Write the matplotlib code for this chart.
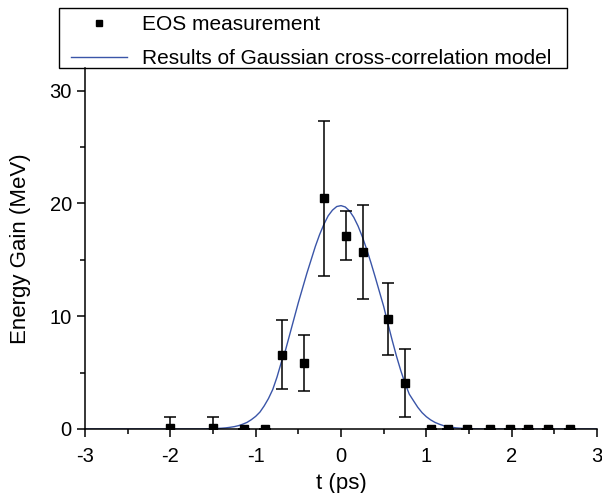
# EOS measurement vs Gaussian cross-correlation model
import matplotlib.pyplot as plt
import numpy as np
from matplotlib.lines import Line2D
from matplotlib.patches import Rectangle
from matplotlib.ticker import MultipleLocator

plt.rcParams['font.family'] = ['Liberation Sans', 'DejaVu Sans']
plt.rcParams['axes.unicode_minus'] = False

# measured energy gain (MeV) vs delay t (ps)
eos_t = [-2.0, -1.5, -1.14, -0.89, -0.69, -0.43, -0.20, 0.06, 0.255, 0.545, 0.745,
         1.06, 1.25, 1.48, 1.75, 1.98, 2.19, 2.42, 2.68]
eos_gain = [0.1, 0.1, 0.0, 0.0, 6.6, 5.85, 20.45, 17.15, 15.7, 9.75, 4.05,
            0.0, 0.0, 0.0, 0.0, 0.0, 0.0, 0.0, 0.0]
eos_err = [0.95, 0.95, 0.0, 0.0, 3.05, 2.45, 6.85, 2.2, 4.15, 3.15, 3.03,
           0.0, 0.0, 0.0, 0.0, 0.0, 0.0, 0.0, 0.0]

# model curve every 0.05 ps
model_t = np.round(np.arange(-3.0, 3.0001, 0.05), 2)
model_gain = [0.0] * 28 + [
    0.01, 0.02, 0.03, 0.045, 0.07, 0.10, 0.15, 0.21, 0.30, 0.43, 0.59, 0.83, 1.12, 1.5, 2.05, 2.7,
    3.5, 4.6, 5.9, 7.0, 8.4, 9.8, 11.2, 12.5, 13.8, 15.0, 16.2, 17.25, 18.15, 18.9, 19.4, 19.72,
    19.8,
    19.68, 19.33, 18.76, 17.99, 17.04, 15.95, 14.76, 13.49, 12.18, 10.87, 9.34, 7.86, 6.46, 5.19,
    4.06, 3.09, 2.5, 1.92, 1.45, 1.09, 0.81, 0.59, 0.43, 0.30, 0.21, 0.15, 0.10, 0.07, 0.045, 0.03,
    0.02, 0.01,
] + [0.0] * 28

curve_color = '#3a55a8'

fig = plt.figure(figsize=(6.02, 4.93), dpi=100)
ax = fig.add_axes([85 / 602, 1 - 429 / 493, 512 / 602, 361 / 493])

ax.errorbar(eos_t, eos_gain, yerr=eos_err, fmt='s', color='black', ms=6,
            ecolor='black', elinewidth=1.1, capsize=4, capthick=1.1, zorder=3)
ax.plot(model_t, model_gain, color=curve_color, lw=1.0, zorder=2)

ax.set_xlim(-3, 3)
ax.set_ylim(0, 32)
ax.xaxis.set_major_locator(MultipleLocator(1))
ax.xaxis.set_minor_locator(MultipleLocator(0.5))
ax.yaxis.set_major_locator(MultipleLocator(10))
ax.yaxis.set_minor_locator(MultipleLocator(5))
for side in ['top', 'right']:
    ax.spines[side].set_visible(False)
for side in ['left', 'bottom']:
    ax.spines[side].set_linewidth(1.1)
ax.tick_params(which='both', direction='out', width=1.1, labelsize=14.5)
ax.tick_params(which='major', length=6)
ax.tick_params(which='minor', length=3.5)
ax.tick_params(axis='x', pad=7)
ax.set_xlabel('t (ps)', fontsize=16, labelpad=5)
ax.set_ylabel('Energy Gain (MeV)', fontsize=16, labelpad=13)

# legend box sits above the axes and sticks out to the left of it
fig.patches.append(Rectangle((59 / 602, 1 - 68 / 493), 508 / 602, 60 / 493,
                             transform=fig.transFigure, fill=False,
                             edgecolor='black', lw=1.0))
handles = [Line2D([], [], ls='none', marker='s', color='black', ms=5),
           Line2D([], [], color=curve_color, lw=1.0)]
labels = ['EOS measurement', 'Results of Gaussian cross-correlation model']
fig.legend(handles, labels, loc='center left', bbox_to_anchor=(71 / 602, 1 - 42 / 493),
           frameon=False, borderpad=0, borderaxespad=0, fontsize=15,
           handlelength=2.7, handletextpad=0.7, labelspacing=0.72)

fig.savefig('out.png', dpi=100)
